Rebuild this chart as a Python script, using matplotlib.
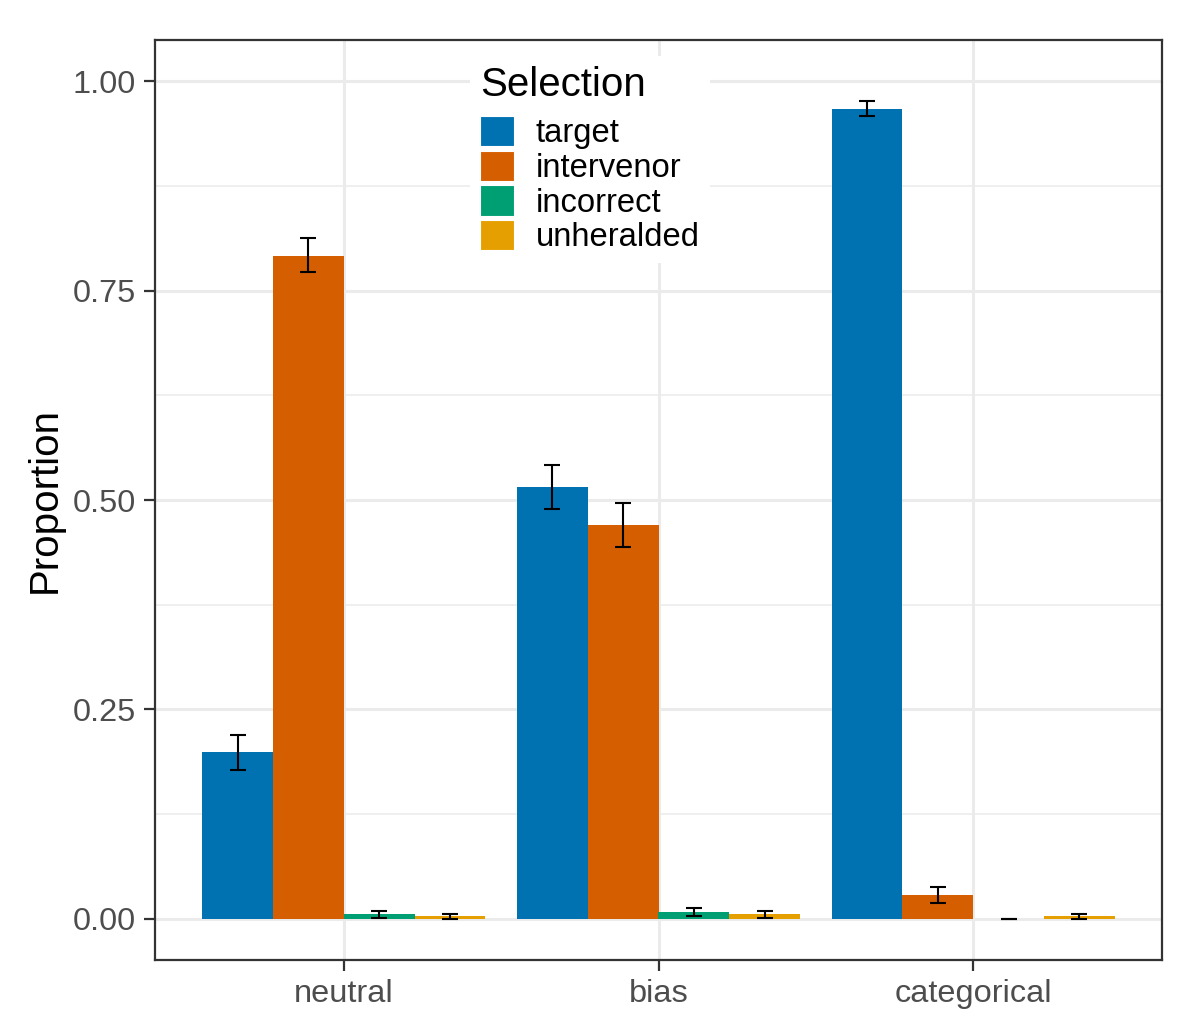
import matplotlib.pyplot as plt
import numpy as np
from matplotlib.patches import Patch

# Datos
conditions = ['neutral', 'bias', 'categorical']
selections = ['target', 'intervenor', 'incorrect', 'unheralded']
colors = ['#0072B2', '#D55E00', '#009E73', '#E69F00']

proportion = {
    'target':     [0.199, 0.516, 0.967],
    'intervenor': [0.791, 0.470, 0.029],
    'incorrect':  [0.0055, 0.008, 0.0],
    'unheralded': [0.003, 0.0055, 0.003],
}
lower = {
    'target':     [0.178, 0.489, 0.958],
    'intervenor': [0.772, 0.444, 0.0195],
    'incorrect':  [0.0015, 0.003, 0.0],
    'unheralded': [0.0003, 0.001, 0.0003],
}
upper = {
    'target':     [0.220, 0.542, 0.976],
    'intervenor': [0.813, 0.496, 0.0385],
    'incorrect':  [0.0095, 0.013, 0.0],
    'unheralded': [0.006, 0.010, 0.006],
}

plt.rcParams['font.family'] = ['Liberation Sans', 'DejaVu Sans']

fig = plt.figure(figsize=(6, 5.175), dpi=200)
ax = fig.add_axes([155 / 1200, 1 - 960 / 1035, 1007 / 1200, 920 / 1035])

x = np.arange(1, len(conditions) + 1)
width = 0.9 / len(selections)
for i, (sel, col) in enumerate(zip(selections, colors)):
    pos = x - 0.45 + width * (i + 0.5)
    vals = np.array(proportion[sel])
    ax.bar(pos, vals, width=width, color=col, zorder=2, linewidth=0)
    err = [vals - np.array(lower[sel]), np.array(upper[sel]) - vals]
    ax.errorbar(pos, vals, yerr=err, fmt='none', ecolor='black',
                elinewidth=0.75, capsize=2.9, capthick=0.75, zorder=3)

ax.set_xlim(0.4, 3.6)
ax.set_ylim(-0.049, 1.049)
ax.set_xticks(x)
ax.set_xticklabels(conditions)
ax.set_yticks([0, 0.25, 0.5, 0.75, 1.0])
ax.set_yticklabels(['0.00', '0.25', '0.50', '0.75', '1.00'])
ax.set_yticks([0.125, 0.375, 0.625, 0.875], minor=True)

ax.grid(True, which='major', color='#EBEBEB', linewidth=1.1, zorder=0)
ax.grid(True, which='minor', axis='y', color='#EBEBEB', linewidth=0.55, zorder=0)
ax.set_axisbelow(True)
ax.tick_params(axis='both', which='major', labelsize=11.7, labelcolor='#4D4D4D',
               color='#333333', length=4, width=0.8, pad=3)
ax.tick_params(axis='y', which='minor', length=0)
for s in ax.spines.values():
    s.set_color('#333333')
    s.set_linewidth(0.8)

ax.set_ylabel('Proportion', fontsize=14.5, labelpad=3)

handles = [Patch(facecolor=c, edgecolor='white', linewidth=0.4) for c in colors]
leg = fig.legend(handles, selections, title='Selection', loc='upper left',
                 bbox_to_anchor=(454 / 1200, 1 - 40 / 1035), fontsize=11.8,
                 title_fontsize=14.5, frameon=True, fancybox=False,
                 framealpha=1, edgecolor='none', facecolor='white',
                 handlelength=1.04, handleheight=1.04, labelspacing=0.04,
                 handletextpad=0.66, borderpad=0.3, alignment='left')
# espacio extra entre el titulo y las claves
leg._legend_box.sep = 4.3

fig.savefig('out.png', dpi=200)
